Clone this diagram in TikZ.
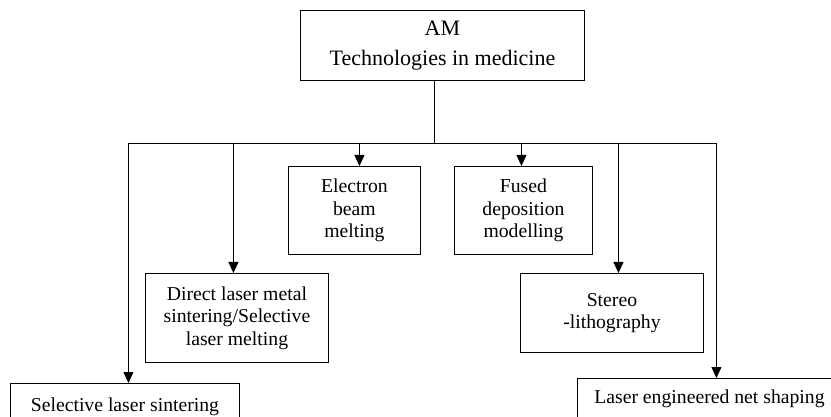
\documentclass[tikz,border=0pt]{standalone}
\usepackage{fontspec}
\setmainfont{Liberation Serif}
\usepackage{tikz}
\usetikzlibrary{arrows.meta,positioning}

\begin{document}
\begin{tikzpicture}[x=1pt,y=-1pt,line width=0.9pt,
  box/.style={draw,anchor=north west,align=center,inner sep=0pt,
              font=\fontsize{19.7}{22.5}\selectfont},
  arr/.style={-{Triangle[length=11pt,width=10pt]}}]
  \clip (0,0) rectangle (831,417);
  \node[box,minimum width=284pt,minimum height=70pt,
        font=\fontsize{22}{30}\selectfont] (am) at (300,10)
    {AM\\Technologies in medicine};
  \node[box,minimum width=229pt,minimum height=46pt] (sls) at (10,383)
    {Selective laser sintering};
  \node[box,minimum width=183pt,minimum height=89pt] (dlms) at (145,273)
    {Direct laser metal\\sintering/Selective\\laser melting};
  \node[box,minimum width=132pt,minimum height=88pt] (ebm) at (288,166)
    {Electron\\beam\\melting};
  \node[box,minimum width=138pt,minimum height=88pt] (fdm) at (454,166)
    {Fused\\deposition\\modelling};
  \node[box,minimum width=183pt,minimum height=79pt] (sla) at (520,273)
    {Stereo\\-lithography};
  \node[box,minimum width=264pt,minimum height=40pt] (lens) at (577,378)
    {Laser engineered net shaping};
  % bus line
  \coordinate (bus) at (434,143);
  \draw (am.south -| bus) -- (bus);
  \draw ([xshift=3.5]sls.north |- bus) -- ([xshift=7]lens.north |- bus);
  \draw[arr] ([xshift=3.5]sls.north |- bus) -- ([xshift=3.5]sls.north);
  \draw[arr] ([xshift=-3.5]dlms.north |- bus) -- ([xshift=-3.5]dlms.north);
  \draw[arr] ([xshift=5]ebm.north |- bus) -- ([xshift=5]ebm.north);
  \draw[arr] ([xshift=-2]fdm.north |- bus) -- ([xshift=-2]fdm.north);
  \draw[arr] ([xshift=6.5]sla.north |- bus) -- ([xshift=6.5]sla.north);
  \draw[arr] ([xshift=7]lens.north |- bus) -- ([xshift=7]lens.north);
\end{tikzpicture}
\end{document}
